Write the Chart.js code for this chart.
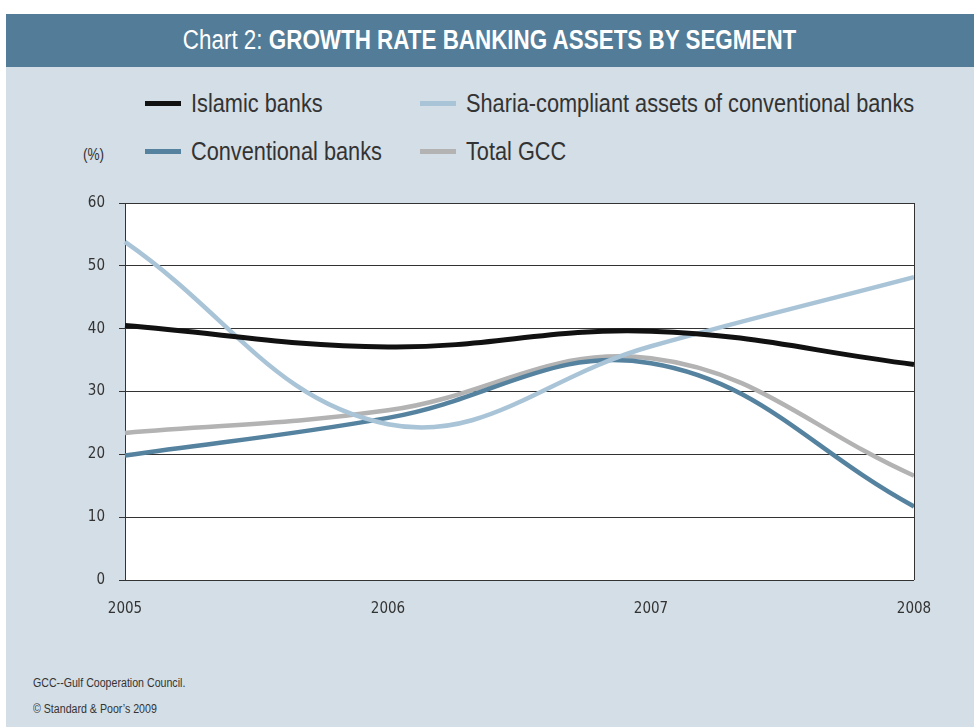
<!DOCTYPE html>
<html>
<head>
<meta charset="utf-8">
<script src="https://cdn.jsdelivr.net/npm/chart.js@4"></script>
<style>
  html, body { margin: 0; padding: 0; background: #fff; }
  body { width: 974px; height: 727px; position: relative; overflow: hidden;
         font-family: "Liberation Sans", Arial, sans-serif; color: #333; }
  #panel { position: absolute; left: 6px; top: 67px; width: 968px; height: 660px; background: #d3dee6; }
  #title { position: absolute; left: 6px; top: 14px; width: 968px; height: 53px; background: #527c98;
           color: #fff; font-size: 27px; line-height: 53px; text-align: center; }
  #title span { display: inline-block; transform: scaleX(0.83); transform-origin: center; white-space: nowrap; }
  #title b { font-weight: bold; }
  .leg { position: absolute; font-size: 26.5px; line-height: 30px; color: #333; white-space: nowrap; }
  .leg span.sw { position: absolute; left: 0; top: 13px; width: 36px; height: 5px; }
  .leg span.tx { position: absolute; left: 46px; top: 0; transform: scaleX(0.82); transform-origin: left; }
  #unit { position: absolute; left: 83px; top: 146px; font-size: 16px; color: #333;
          transform: scaleX(0.85); transform-origin: left; }
  .note { position: absolute; left: 33px; font-size: 12.5px; color: #333; white-space: nowrap;
          transform: scaleX(0.85); transform-origin: left; }
  #wrap { position: absolute; left: 0; top: 180px; width: 974px; height: 460px; }
</style>
</head>
<body>
<div id="panel"></div>
<div id="title"><span>Chart 2: <b>GROWTH RATE BANKING ASSETS BY SEGMENT</b></span></div>
<div id="legend"></div>
<div id="unit">(%)</div>
<div id="wrap"><canvas id="growth"></canvas></div>
<div class="note" style="top:676px">GCC--Gulf Cooperation Council.</div>
<div class="note" style="top:702px">© Standard &amp; Poor’s 2009</div>
<script>
const years = ["2005", "2006", "2007", "2008"];
const islamicBanks = [40.5, 37.1, 39.6, 34.3];
const shariaAssets = [53.8, 24.8, 37.2, 48.2];
const conventionalBanks = [19.8, 25.8, 34.5, 11.7];
const totalGCC = [23.4, 27.0, 35.3, 16.6];
const yTicks = [0, 10, 20, 30, 40, 50, 60];

const series = [
  { label: "Islamic banks", data: islamicBanks, color: "#111111", width: 5 },
  { label: "Sharia-compliant assets of conventional banks", data: shariaAssets, color: "#a9c4d7", width: 4.5 },
  { label: "Conventional banks", data: conventionalBanks, color: "#55829f", width: 4.5 },
  { label: "Total GCC", data: totalGCC, color: "#b3b3b3", width: 4.5 }
];

// legend, 2 x 2 grid
const legPos = [[145, 88], [420, 88], [145, 136], [420, 136]];
const legend = document.getElementById("legend");
series.forEach((s, i) => {
  const d = document.createElement("div");
  d.className = "leg";
  d.style.left = legPos[i][0] + "px";
  d.style.top = legPos[i][1] + "px";
  d.innerHTML = '<span class="sw" style="background:' + s.color + '"></span><span class="tx">' + s.label + "</span>";
  legend.appendChild(d);
});

// white plot area plus the right-hand frame line
const frame = {
  id: "frame",
  beforeDraw(chart) {
    const a = chart.chartArea, ctx = chart.ctx;
    ctx.save();
    ctx.fillStyle = "#ffffff";
    ctx.fillRect(a.left, a.top, a.right - a.left, a.bottom - a.top);
    ctx.restore();
  },
  afterDatasetsDraw(chart) {
    const a = chart.chartArea, ctx = chart.ctx;
    ctx.save();
    ctx.strokeStyle = "#333";
    ctx.lineWidth = 1;
    ctx.beginPath();
    ctx.moveTo(a.right + 0.5, a.top);
    ctx.lineTo(a.right + 0.5, a.bottom);
    ctx.stroke();
    ctx.restore();
  }
};

const font = { family: '"DejaVu Sans Condensed", "Liberation Sans", sans-serif', size: 15 };

new Chart("growth", {
  type: "line",
  data: {
    labels: years,
    datasets: series.map(s => ({
      label: s.label,
      data: s.data,
      borderColor: s.color,
      borderWidth: s.width,
      pointRadius: 0,
      tension: 0.4,
      fill: false
    }))
  },
  options: {
    responsive: true,
    maintainAspectRatio: false,
    animation: false,
    layout: { padding: { top: 21, right: 60, bottom: 20, left: 0 } },
    plugins: { legend: { display: false }, tooltip: { enabled: false } },
    scales: {
      x: {
        offset: false,
        grid: { display: false, drawTicks: false },
        border: { display: false },
        ticks: { color: "#333", font: font, padding: 20, maxRotation: 0 },
        afterFit(s) { s.height = 40; }
      },
      y: {
        min: 0,
        max: 60,
        afterBuildTicks(s) { s.ticks = yTicks.map(v => ({ value: v })); },
        grid: { color: "#333", lineWidth: 1, tickLength: 6 },
        border: { display: true, color: "#333", width: 1 },
        ticks: { color: "#333", font: font, padding: 14 },
        afterFit(s) { s.width = 125; }
      }
    }
  },
  plugins: [frame]
});
</script>
</body>
</html>
